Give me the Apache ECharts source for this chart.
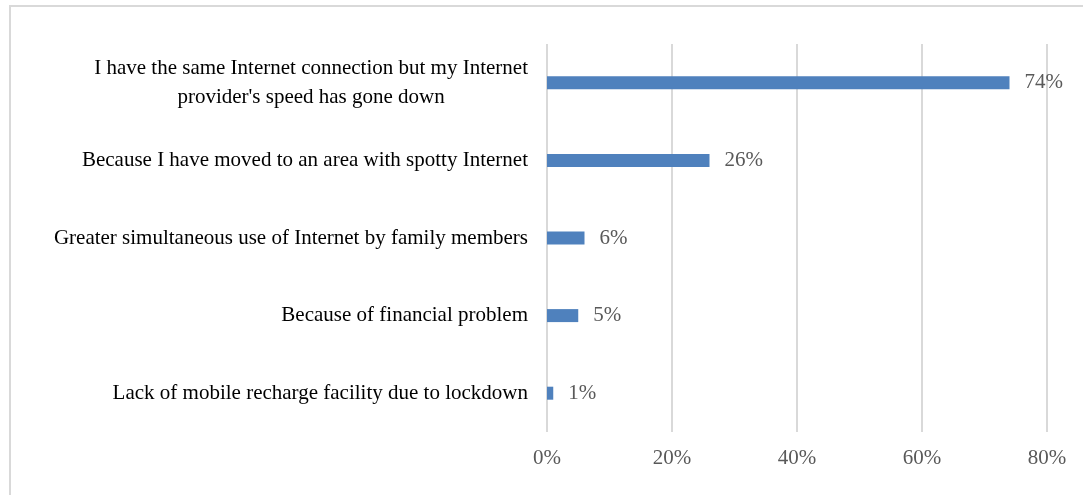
<!DOCTYPE html>
<html>
<head>
    <meta charset="utf-8">
    <title>ECharts</title>
    <script src="https://cdn.jsdelivr.net/npm/echarts@6/dist/echarts.min.js"></script>
</head>
<body>
<div id="main"></div>
<style type="text/css">
    html { height: 100% }
    body { height: 100%; margin: 0px; padding: 0px; background: #fff }
    #main { width: 1083px; height: 495px }
</style>

<script type="text/javascript">
    // categories listed bottom to top (ECharts category y-axis starts at bottom)
    var categories = [
        'Lack of mobile recharge facility due to lockdown',
        'Because of financial problem',
        'Greater simultaneous use of Internet by family members',
        'Because I have moved to an area with spotty Internet',
        "I have the same Internet connection but my Internet\nprovider's speed has gone down"
    ];
    var values = [1, 5, 6, 26, 74];
    var xTicks = [0, 20, 40, 60, 80];

    var serif = '"Liberation Serif", "DejaVu Serif", serif';
    var myChart = echarts.init(document.getElementById('main'));

    var option = {
        backgroundColor: '#fff',
        animation: false,
        graphic: [{
            type: 'polyline',
            shape: { points: [[10, 496], [10, 6], [1090, 6]] },
            style: { stroke: '#d9d9d9', lineWidth: 2, fill: null }
        }],
        grid: {
            left: 547,
            right: 36,
            top: 44,
            bottom: 63
        },
        xAxis: {
            type: 'value',
            min: xTicks[0],
            max: xTicks[xTicks.length - 1],
            interval: 20,
            axisLine: { show: false },
            axisTick: { show: false },
            splitLine: { lineStyle: { color: '#d9d9d9', width: 2 } },
            axisLabel: {
                margin: 16,
                color: '#595959',
                fontFamily: serif,
                fontSize: 21,
                formatter: '{value}%'
            }
        },
        yAxis: {
            type: 'category',
            data: categories,
            axisLine: { show: false },
            axisTick: { show: false },
            axisLabel: {
                margin: 19,
                color: '#000',
                fontFamily: serif,
                fontSize: 21,
                lineHeight: 29,
                formatter: function (v) {
                    return v.split('\n').map(function (s) { return '{c|' + s + '}'; }).join('\n');
                },
                rich: {
                    c: {
                        align: 'center',
                        color: '#000',
                        fontFamily: serif,
                        fontSize: 21,
                        lineHeight: 29
                    }
                }
            }
        },
        series: [{
            type: 'bar',
            data: values,
            barWidth: 13,
            itemStyle: { color: '#4f81bd' },
            label: {
                show: true,
                position: 'right',
                distance: 15,
                color: '#595959',
                fontFamily: serif,
                fontSize: 21,
                formatter: '{c}%'
            }
        }]
    };
    myChart.setOption(option);
</script>
</body>
</html>
